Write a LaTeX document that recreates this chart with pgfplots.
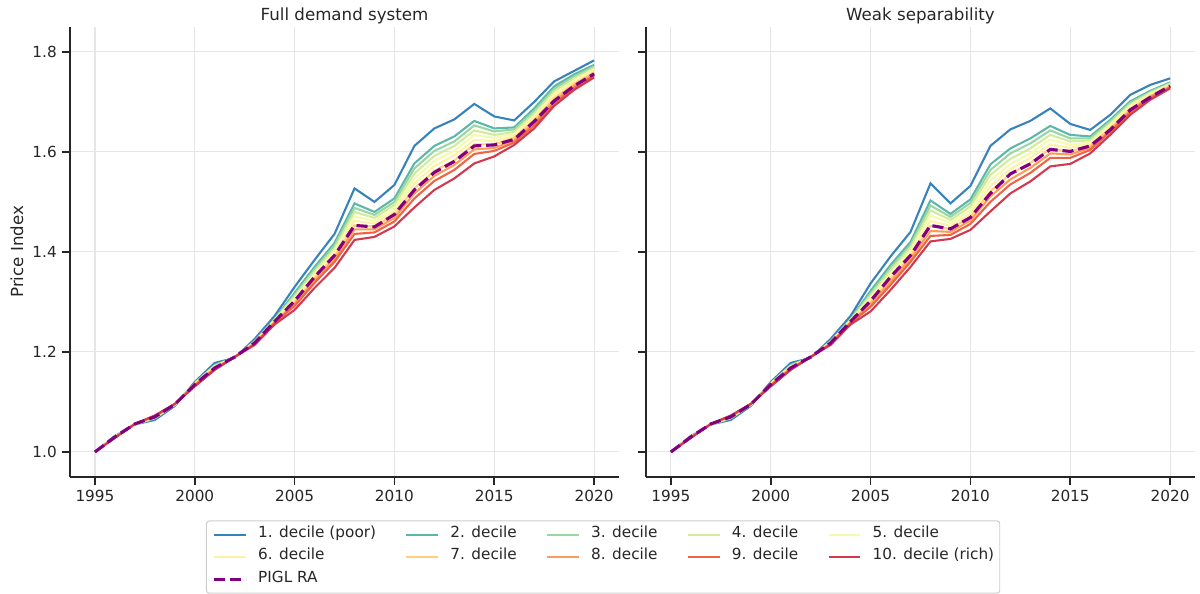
\documentclass[border=0pt]{standalone}
\usepackage{pgfplots}
\pgfplotsset{compat=1.18}
\usepackage{pgfplotstable}
\usepackage{fontspec}
\setmainfont{DejaVu Sans}

\definecolor{txt}{RGB}{38,38,38}
\definecolor{gridc}{RGB}{230,230,230}
\definecolor{legc}{RGB}{204,204,204}
\definecolor{dc1}{RGB}{54,131,187}
\definecolor{dc2}{RGB}{93,183,169}
\definecolor{dc3}{RGB}{152,214,164}
\definecolor{dc4}{RGB}{209,236,156}
\definecolor{dc5}{RGB}{244,251,173}
\definecolor{dc6}{RGB}{255,241,167}
\definecolor{dc7}{RGB}{254,206,124}
\definecolor{dc8}{RGB}{251,156,89}
\definecolor{dc9}{RGB}{238,100,69}
\definecolor{dc10}{RGB}{208,57,78}
\definecolor{pigl}{RGB}{128,0,128}

% full demand system
\pgfplotstableread{
year d1 d2 d3 d4 d5 d6 d7 d8 d9 d10 P
1995 1.000 1.000 1.000 1.000 1.000 1.000 1.000 1.000 1.000 1.000 1.000
1996 1.032 1.031 1.031 1.030 1.030 1.030 1.030 1.029 1.029 1.028 1.030
1997 1.055 1.055 1.055 1.055 1.055 1.056 1.056 1.056 1.056 1.056 1.056
1998 1.064 1.067 1.068 1.068 1.069 1.070 1.071 1.071 1.072 1.073 1.070
1999 1.092 1.094 1.094 1.095 1.095 1.095 1.095 1.096 1.096 1.096 1.095
2000 1.140 1.138 1.137 1.137 1.136 1.135 1.134 1.134 1.133 1.131 1.135
2001 1.178 1.174 1.173 1.172 1.171 1.169 1.168 1.167 1.166 1.164 1.168
2002 1.188 1.189 1.189 1.189 1.189 1.190 1.190 1.190 1.190 1.190 1.190
2003 1.226 1.222 1.221 1.220 1.219 1.219 1.218 1.217 1.216 1.214 1.218
2004 1.272 1.266 1.265 1.264 1.263 1.261 1.260 1.259 1.258 1.255 1.261
2005 1.330 1.318 1.314 1.311 1.307 1.303 1.299 1.296 1.292 1.284 1.302
2006 1.384 1.370 1.365 1.361 1.356 1.352 1.347 1.343 1.338 1.328 1.350
2007 1.436 1.418 1.413 1.407 1.402 1.396 1.391 1.385 1.380 1.368 1.393
2008 1.527 1.497 1.488 1.480 1.471 1.462 1.453 1.445 1.436 1.424 1.453
2009 1.500 1.480 1.474 1.468 1.462 1.457 1.451 1.445 1.439 1.430 1.450
2010 1.534 1.507 1.500 1.494 1.487 1.481 1.474 1.468 1.461 1.451 1.475
2011 1.612 1.577 1.567 1.557 1.547 1.537 1.527 1.517 1.507 1.489 1.524
2012 1.647 1.612 1.602 1.592 1.582 1.572 1.562 1.552 1.542 1.524 1.559
2013 1.665 1.631 1.621 1.612 1.602 1.593 1.583 1.574 1.564 1.547 1.581
2014 1.696 1.662 1.653 1.643 1.634 1.624 1.615 1.605 1.596 1.577 1.612
2015 1.671 1.647 1.641 1.634 1.628 1.621 1.615 1.608 1.602 1.591 1.614
2016 1.663 1.649 1.645 1.640 1.636 1.632 1.628 1.623 1.619 1.614 1.625
2017 1.700 1.687 1.682 1.677 1.672 1.668 1.663 1.658 1.653 1.647 1.661
2018 1.741 1.731 1.726 1.721 1.716 1.712 1.707 1.702 1.697 1.692 1.702
2019 1.762 1.755 1.751 1.747 1.743 1.740 1.736 1.732 1.728 1.724 1.732
2020 1.783 1.774 1.771 1.768 1.765 1.762 1.759 1.756 1.753 1.749 1.756
}\fulltab

% weak separability
\pgfplotstableread{
year d1 d2 d3 d4 d5 d6 d7 d8 d9 d10 P
1995 1.000 1.000 1.000 1.000 1.000 1.000 1.000 1.000 1.000 1.000 1.000
1996 1.032 1.031 1.031 1.030 1.030 1.030 1.030 1.029 1.029 1.028 1.030
1997 1.055 1.055 1.055 1.055 1.055 1.056 1.056 1.056 1.056 1.056 1.056
1998 1.064 1.067 1.068 1.068 1.069 1.070 1.071 1.071 1.072 1.073 1.070
1999 1.092 1.094 1.094 1.095 1.095 1.095 1.095 1.096 1.096 1.096 1.095
2000 1.140 1.138 1.137 1.137 1.136 1.135 1.134 1.134 1.133 1.131 1.135
2001 1.178 1.174 1.173 1.172 1.171 1.169 1.168 1.167 1.166 1.164 1.168
2002 1.188 1.189 1.189 1.189 1.189 1.190 1.190 1.190 1.190 1.190 1.190
2003 1.226 1.222 1.221 1.220 1.219 1.219 1.218 1.217 1.216 1.214 1.218
2004 1.272 1.266 1.265 1.264 1.263 1.261 1.260 1.259 1.258 1.255 1.261
2005 1.337 1.322 1.317 1.313 1.308 1.304 1.299 1.295 1.290 1.281 1.302
2006 1.391 1.374 1.368 1.363 1.357 1.351 1.345 1.340 1.334 1.324 1.350
2007 1.440 1.420 1.414 1.409 1.403 1.397 1.391 1.386 1.380 1.370 1.393
2008 1.537 1.503 1.493 1.483 1.473 1.462 1.452 1.442 1.432 1.421 1.453
2009 1.497 1.476 1.470 1.464 1.458 1.452 1.446 1.440 1.434 1.426 1.446
2010 1.532 1.505 1.498 1.491 1.484 1.477 1.470 1.463 1.456 1.444 1.469
2011 1.612 1.575 1.564 1.554 1.543 1.532 1.521 1.511 1.500 1.481 1.517
2012 1.645 1.607 1.597 1.586 1.576 1.566 1.556 1.545 1.535 1.517 1.556
2013 1.662 1.627 1.617 1.607 1.597 1.588 1.578 1.568 1.558 1.541 1.576
2014 1.687 1.652 1.643 1.634 1.625 1.615 1.606 1.597 1.588 1.571 1.605
2015 1.656 1.634 1.627 1.621 1.614 1.608 1.601 1.595 1.588 1.576 1.601
2016 1.644 1.631 1.627 1.623 1.619 1.616 1.612 1.608 1.604 1.597 1.612
2017 1.674 1.664 1.661 1.657 1.654 1.650 1.647 1.643 1.640 1.634 1.644
2018 1.714 1.701 1.698 1.695 1.692 1.688 1.685 1.682 1.679 1.674 1.684
2019 1.734 1.722 1.720 1.718 1.716 1.714 1.712 1.710 1.708 1.704 1.709
2020 1.747 1.739 1.738 1.736 1.735 1.733 1.732 1.730 1.729 1.727 1.732
}\weaktab

\pgfplotsset{
  panel/.style={
    scale only axis,
    width=395.3pt, height=323.8pt,
    anchor=south west,
    xmin=1993.75, xmax=2021.25,
    ymin=0.9506, ymax=1.85,
    axis x line*=bottom, axis y line*=left,
    axis line style={txt, line width=1.25pt, -},
    every outer x axis line/.append style={-},
    every outer y axis line/.append style={-},
    xtick={1995,2000,2005,2010,2015,2020},
    ytick={1.0,1.2,1.4,1.6,1.8},
    tick align=outside,
    major tick length=6pt,
    tick style={txt, line width=1.25pt},
    grid=major,
    major grid style={gridc, line width=0.8pt},
    /pgf/number format/1000 sep={},
    /pgf/number format/assume math mode=true,
    tick label style={font=\fontsize{11}{13}\selectfont, text=txt},
    yticklabel style={/pgf/number format/.cd, fixed, fixed zerofill, precision=1},
    title style={font=\fontsize{12}{14}\selectfont, text=txt,
      anchor=base, yshift=-1.2pt},
    every axis plot/.append style={line width=1.5pt},
    legend image code/.code={\draw[#1] (0pt,0pt) -- (23pt,0pt);},
  },
}

\begin{document}
\begin{tikzpicture}
\path[use as bounding box] (0,0) rectangle (864pt,427.68pt);

\begin{axis}[panel, at={(50.4pt,84.5pt)},
  title={Full demand system},
  ylabel={Price Index},
  ylabel style={font=\fontsize{12}{14}\selectfont, text=txt,
    at={(axis description cs:-0.0965,0.5)}, anchor=center},
  legend columns=5,
  legend cell align=left,
  legend style={at={(0.971,-0.0975)}, anchor=north,
    draw=legc, rounded corners=2pt, line width=0.7pt,
    font=\fontsize{11}{13}\selectfont, text=txt,
    inner xsep=4pt, inner ysep=2pt,
    column sep=0pt,
    nodes={inner xsep=0pt, inner ysep=0pt, text height=10pt, text depth=6pt},
    /tikz/every odd column/.append style={column sep=8pt},
    /tikz/every even column/.append style={column sep=21pt}},
  legend entries={1. decile (poor), 2. decile, 3. decile, 4. decile, 5. decile,
    6. decile, 7. decile, 8. decile, 9. decile, 10. decile (rich), PIGL RA},
]
\pgfplotsinvokeforeach{1,...,10}{
  \addplot[color=dc#1] table[x=year, y=d#1] {\fulltab};
}
\addplot[color=pigl, line width=2.25pt, dash pattern=on 8pt off 3.5pt] table[x=year, y=P] {\fulltab};
\end{axis}

\begin{axis}[panel, at={(465.1pt,84.5pt)},
  title={Weak separability},
  yticklabels={},
]
\pgfplotsinvokeforeach{1,...,10}{
  \addplot[color=dc#1] table[x=year, y=d#1] {\weaktab};
}
\addplot[color=pigl, line width=2.25pt, dash pattern=on 8pt off 3.5pt] table[x=year, y=P] {\weaktab};
\end{axis}
\end{tikzpicture}
\end{document}
